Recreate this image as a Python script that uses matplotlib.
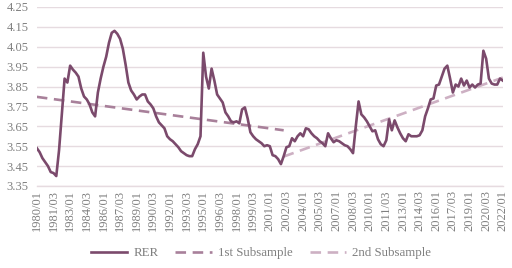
import matplotlib
matplotlib.use("Agg")
import matplotlib.pyplot as plt
import numpy as np

# Quarterly data 1980Q1 .. 2022Q1
start_year = 1980
rer = [
    3.54, 3.52, 3.49, 3.47, 3.45, 3.42, 3.415, 3.40, 3.53, 3.71,
    3.89, 3.87, 3.955, 3.935, 3.92, 3.90, 3.84, 3.80, 3.785, 3.76,
    3.72, 3.70, 3.82, 3.89, 3.95, 4.00, 4.07, 4.12, 4.13, 4.115,
    4.09, 4.04, 3.96, 3.87, 3.83, 3.81, 3.785, 3.80, 3.81, 3.81,
    3.775, 3.76, 3.74, 3.70, 3.67, 3.655, 3.64, 3.60, 3.585, 3.575,
    3.56, 3.545, 3.525, 3.515, 3.505, 3.50, 3.50, 3.535, 3.56, 3.60,
    4.02, 3.90, 3.84, 3.94, 3.88, 3.81, 3.79, 3.77, 3.72, 3.70,
    3.675, 3.67, 3.675, 3.665, 3.735, 3.745, 3.69, 3.62, 3.60, 3.585,
    3.575, 3.565, 3.55, 3.555, 3.55, 3.505, 3.50, 3.485, 3.46, 3.50,
    3.545, 3.55, 3.59, 3.575, 3.60, 3.615, 3.60, 3.64, 3.635, 3.615,
    3.60, 3.59, 3.575, 3.565, 3.55, 3.615, 3.59, 3.57, 3.58, 3.575,
    3.565, 3.555, 3.55, 3.535, 3.515, 3.65, 3.775, 3.71, 3.695, 3.675,
    3.65, 3.625, 3.63, 3.585, 3.56, 3.55, 3.58, 3.685, 3.63, 3.68,
    3.645, 3.615, 3.59, 3.575, 3.61, 3.60, 3.60, 3.60, 3.605, 3.63,
    3.70, 3.74, 3.785, 3.79, 3.855, 3.86, 3.90, 3.94, 3.955, 3.89,
    3.82, 3.86, 3.85, 3.89, 3.855, 3.88, 3.845, 3.86, 3.845, 3.86,
    3.865, 4.03, 3.99, 3.89, 3.865, 3.86, 3.86, 3.89, 3.88,
]

# Trend lines (start/end quarter index and value)
sub1_idx = [0, 89]
sub1_val = [3.798, 3.630]
sub2_idx = [89, 168]
sub2_val = [3.498, 3.895]

labels = [f"{start_year + i // 4}/{i % 4 + 1:02d}" for i in range(len(rer))]
tick_step = 6

plt.rcParams['font.family'] = ['Liberation Serif', 'DejaVu Serif']

fig = plt.figure(figsize=(5.12, 2.68), dpi=100)
ax = fig.add_axes([0.072, 0.306, 0.910, 0.668])

x = np.arange(len(rer))
ax.plot(x, rer, color='#7B4A6C', lw=1.9, solid_joinstyle='round', label='RER', zorder=3)
ax.plot(sub1_idx, sub1_val, color='#A8809A', lw=1.9, dashes=(4, 2.5), label='1st Subsample', zorder=2)
ax.plot(sub2_idx, sub2_val, color='#CDB0C3', lw=1.9, dashes=(4, 2.5), label='2nd Subsample', zorder=2)

ax.set_xlim(0, len(rer) - 1)
ax.set_ylim(3.35, 4.25)
yt = np.round(np.arange(3.35, 4.2501, 0.10), 2)
ax.set_yticks(yt)
ax.set_yticklabels([f"{v:.2f}" for v in yt])
ax.grid(axis='y', color='#E6DBE0', lw=1.0)
ax.set_axisbelow(True)
for s in ['top', 'right', 'left']:
    ax.spines[s].set_visible(False)
ax.spines['bottom'].set_color('#E6DBE0')
ax.spines['bottom'].set_linewidth(1.0)

xt = x[::tick_step]
ax.set_xticks(xt)
ax.set_xticklabels([labels[i] for i in xt], rotation=90)
ax.tick_params(axis='both', length=0, colors='#7F7F7F', labelsize=9)
ax.tick_params(axis='x', pad=3)
ax.tick_params(axis='y', pad=6)

fig.legend(loc='lower center', bbox_to_anchor=(0.51, -0.01), ncol=3, frameon=False,
           fontsize=9.3, labelcolor='#7F7F7F', handlelength=2.8, handletextpad=0.5,
           columnspacing=1.3)

fig.savefig('out.png', dpi=100)
